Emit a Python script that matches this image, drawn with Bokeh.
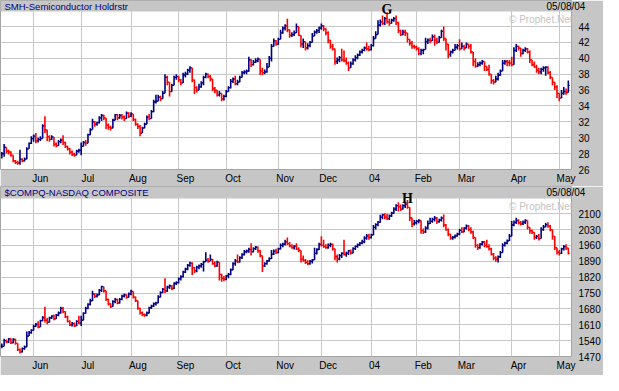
from bokeh.plotting import figure
from bokeh.models import ColumnDataSource, Range1d, FixedTicker, Label, LinearAxis, BoxAnnotation
from bokeh.layouts import column
from bokeh.embed import file_html
from bokeh.resources import INLINE

# ---------------- data ----------------
month_labels = ["Jun", "Jul", "Aug", "Sep", "Oct", "Nov", "Dec", "04", "Feb", "Mar", "Apr", "May"]
month_start_idx = [14, 35, 57, 78, 99, 122, 141, 163, 183, 202, 225, 246]

smh_ticks = [26, 28, 30, 32, 34, 36, 38, 40, 42, 44]
ndx_ticks = [1470, 1540, 1610, 1680, 1750, 1820, 1890, 1960, 2030, 2100]

smh_close = [
    28.0, 28.8, 28.3, 28.2, 27.8, 27.1, 26.9, 26.8, 27.3, 27.1,
    27.3, 28.6, 29.3, 29.9, 30.2, 29.6, 29.8, 29.9, 31.5, 31.0,
    30.1, 29.8, 30.1, 29.2, 29.0, 29.5, 29.7, 29.4, 28.9, 28.6,
    28.2, 27.9, 27.8, 28.3, 28.4, 28.9, 29.4, 29.3, 30.4, 31.0,
    32.0, 31.7, 31.9, 32.5, 32.8, 32.5, 31.6, 31.3, 31.2, 32.2,
    32.9, 32.5, 32.8, 32.6, 32.4, 33.1, 32.7, 33.0, 32.3, 31.7,
    31.4, 30.6, 31.2, 31.7, 32.6, 32.4, 33.3, 34.5, 34.6, 35.1,
    34.9, 35.6, 37.6, 37.0, 35.8, 36.6, 37.6, 37.7, 37.3, 36.9,
    37.9, 38.0, 38.5, 38.8, 37.3, 36.3, 36.0, 36.4, 36.9, 37.6,
    38.0, 37.7, 37.4, 36.2, 36.0, 35.4, 35.6, 34.9, 35.2, 35.8,
    36.3, 37.1, 37.4, 36.8, 37.0, 37.6, 38.2, 38.3, 38.4, 39.8,
    39.2, 39.5, 39.7, 39.9, 38.4, 38.2, 38.3, 38.9, 40.0, 41.5,
    42.2, 41.8, 42.4, 43.2, 43.8, 44.1, 43.6, 42.9, 43.0, 43.2,
    44.0, 42.9, 41.8, 42.1, 41.3, 41.6, 42.0, 42.8, 43.3, 43.5,
    43.8, 44.1, 43.7, 43.2, 42.3, 41.5, 41.2, 39.6, 39.8, 40.1,
    39.8, 39.7, 39.4, 38.8, 39.3, 39.8, 40.1, 40.4, 40.8, 41.0,
    41.3, 41.2, 41.1, 41.6, 42.5, 43.0, 44.2, 44.6, 44.4, 45.0,
    44.6, 44.4, 44.8, 45.0, 44.5, 43.5, 43.0, 43.3, 43.2, 42.4,
    41.9, 41.5, 41.4, 41.2, 40.6, 41.0, 41.1, 42.1, 42.3, 42.2,
    42.7, 42.3, 42.0, 42.6, 43.4, 42.5, 41.8, 40.5, 40.8, 41.0,
    41.4, 41.6, 41.2, 41.5, 41.3, 41.8, 41.5, 40.8, 39.6, 39.0,
    39.2, 39.4, 39.6, 39.0, 38.6, 38.0, 37.2, 37.0, 37.4, 37.9,
    38.4, 39.4, 39.6, 39.5, 39.4, 39.2, 41.0, 41.5, 41.3, 40.6,
    41.0, 41.2, 40.8, 39.8, 39.2, 38.9, 38.5, 38.3, 38.6, 38.8,
    38.9, 38.2, 37.6, 37.0, 36.4, 35.6, 35.0, 35.6, 35.8, 35.7,
    36.6,
]
smh_high = [
    28.2, 29.2, 28.8, 28.5, 28.3, 27.8, 27.2, 27.1, 28.5, 27.4,
    27.5, 28.8, 29.4, 30.2, 30.4, 30.6, 30.0, 30.2, 31.7, 32.7,
    31.0, 30.3, 30.3, 30.1, 29.4, 29.7, 29.9, 30.3, 29.5, 29.0,
    28.7, 28.4, 28.1, 28.5, 28.6, 29.4, 29.6, 29.7, 30.5, 31.2,
    32.4, 32.1, 32.0, 32.7, 33.0, 32.9, 32.5, 31.8, 31.5, 32.4,
    33.0, 33.0, 33.0, 33.0, 32.8, 33.3, 33.2, 33.2, 32.9, 32.4,
    31.8, 31.6, 31.4, 31.9, 32.8, 33.0, 33.5, 34.8, 35.4, 35.4,
    35.3, 35.9, 38.0, 37.8, 37.0, 36.8, 37.8, 38.0, 37.8, 37.4,
    38.2, 38.3, 38.7, 39.0, 38.6, 37.3, 36.5, 36.8, 37.1, 37.8,
    38.2, 38.1, 37.9, 37.4, 36.4, 36.0, 35.9, 35.6, 35.4, 36.0,
    36.5, 37.4, 37.6, 37.8, 37.3, 37.8, 38.4, 38.5, 38.6, 40.2,
    39.9, 39.8, 40.0, 40.1, 39.9, 38.8, 38.6, 39.4, 40.3, 41.8,
    42.5, 42.3, 42.6, 43.6, 44.0, 44.3, 45.0, 43.5, 43.3, 43.5,
    44.4, 44.0, 42.9, 42.5, 42.1, 41.9, 42.2, 43.2, 43.5, 43.7,
    44.0, 44.4, 44.2, 43.8, 43.4, 42.3, 41.8, 41.2, 40.1, 40.3,
    41.2, 41.0, 40.1, 39.6, 39.6, 40.0, 40.4, 40.6, 41.0, 41.2,
    41.5, 42.0, 41.6, 41.8, 42.8, 43.4, 44.8, 44.9, 45.4, 45.2,
    45.8, 45.0, 45.0, 45.2, 45.4, 44.6, 43.6, 43.6, 43.6, 43.2,
    42.4, 42.2, 41.7, 41.6, 41.4, 41.2, 41.2, 42.6, 42.5, 42.6,
    43.0, 43.0, 42.6, 42.8, 43.6, 44.0, 42.5, 41.8, 41.0, 41.2,
    41.8, 41.8, 42.4, 42.0, 41.7, 42.0, 41.8, 41.8, 40.8, 40.0,
    39.5, 39.6, 39.8, 39.6, 39.0, 39.2, 38.0, 37.4, 37.8, 38.2,
    38.6, 39.8, 39.8, 39.8, 39.8, 40.2, 41.4, 41.8, 41.6, 41.3,
    41.2, 41.4, 41.3, 41.0, 39.8, 39.6, 39.2, 38.8, 38.8, 39.0,
    39.0, 39.0, 38.4, 37.6, 37.0, 36.6, 35.6, 36.0, 36.4, 36.2,
    37.2,
]
smh_low = [
    27.4, 27.6, 28.0, 27.9, 27.6, 26.9, 26.7, 26.6, 26.6, 26.9,
    27.0, 27.3, 28.6, 29.2, 29.5, 29.3, 29.4, 29.6, 30.0, 30.6,
    29.6, 29.5, 29.7, 28.9, 28.8, 29.0, 29.3, 29.1, 28.7, 28.4,
    27.9, 27.7, 27.6, 27.9, 28.1, 27.8, 28.9, 29.0, 29.3, 30.3,
    31.0, 31.4, 31.5, 31.8, 32.1, 32.2, 31.1, 31.0, 30.9, 31.2,
    32.2, 32.2, 32.4, 32.3, 32.1, 32.4, 32.5, 32.6, 32.1, 31.5,
    31.1, 30.2, 30.7, 31.2, 31.7, 32.2, 32.5, 33.2, 34.3, 34.7,
    34.6, 35.0, 35.6, 36.6, 35.2, 35.8, 36.6, 37.3, 37.0, 36.6,
    36.9, 37.6, 37.9, 38.2, 37.0, 35.5, 35.7, 36.0, 36.3, 36.6,
    37.5, 37.5, 37.1, 35.9, 35.6, 35.2, 35.2, 34.6, 34.7, 35.1,
    35.8, 36.2, 36.9, 36.6, 36.6, 37.0, 37.6, 38.0, 38.0, 38.3,
    38.9, 39.1, 39.4, 39.5, 37.9, 37.9, 38.0, 38.2, 38.9, 39.6,
    41.5, 41.6, 41.7, 42.4, 43.1, 43.5, 43.3, 42.6, 42.7, 42.8,
    43.2, 42.8, 41.4, 41.3, 41.0, 41.1, 41.4, 42.0, 42.8, 43.1,
    43.2, 43.6, 43.4, 42.9, 41.9, 41.2, 41.0, 39.2, 39.3, 39.5,
    39.6, 39.5, 39.2, 38.4, 38.8, 39.2, 39.6, 39.9, 40.3, 40.6,
    40.9, 41.0, 40.9, 41.0, 41.5, 42.6, 43.0, 44.0, 44.2, 44.2,
    44.4, 44.1, 44.4, 44.6, 44.2, 43.2, 42.8, 42.9, 42.8, 42.0,
    41.6, 41.2, 41.2, 41.0, 40.4, 40.4, 40.5, 41.1, 41.8, 41.9,
    42.2, 41.6, 41.8, 42.0, 42.6, 42.2, 41.0, 40.0, 40.2, 40.6,
    41.0, 41.1, 41.0, 41.2, 41.0, 41.4, 41.2, 40.6, 39.0, 38.8,
    38.9, 39.0, 39.2, 38.4, 38.4, 37.8, 36.8, 36.7, 37.0, 37.2,
    37.8, 38.4, 39.2, 39.0, 39.0, 39.0, 39.6, 40.8, 41.0, 40.2,
    40.5, 40.8, 40.6, 39.4, 39.0, 38.8, 38.2, 38.0, 38.0, 38.3,
    37.8, 38.0, 37.4, 36.6, 36.0, 35.0, 34.6, 35.0, 35.4, 35.4,
    35.8,
]

ndx_close = [
    1515, 1540, 1535, 1548, 1530, 1545, 1528, 1500, 1490, 1505,
    1512, 1560, 1575, 1585, 1603, 1612, 1600, 1628, 1642, 1630,
    1622, 1640, 1648, 1636, 1652, 1662, 1682, 1668, 1645, 1625,
    1610, 1615, 1605, 1625, 1618, 1630, 1660, 1682, 1700, 1716,
    1745, 1735, 1742, 1762, 1778, 1760, 1722, 1702, 1690, 1712,
    1722, 1706, 1722, 1736, 1742, 1731, 1746, 1757, 1732, 1716,
    1682, 1662, 1655, 1652, 1662, 1686, 1692, 1702, 1707, 1732,
    1752, 1766, 1760, 1776, 1782, 1770, 1792, 1796, 1812, 1822,
    1842, 1856, 1872, 1882, 1862, 1848, 1864, 1870, 1876, 1888,
    1895, 1890, 1898, 1880, 1870, 1886, 1832, 1815, 1810, 1826,
    1832, 1852, 1880, 1892, 1888, 1906, 1920, 1932, 1936, 1942,
    1932, 1946, 1952, 1936, 1915, 1870, 1880, 1892, 1902, 1922,
    1935, 1928, 1945, 1960, 1966, 1976, 1968, 1958, 1950, 1956,
    1945, 1938, 1900, 1894, 1885, 1880, 1890, 1896, 1925, 1942,
    1965, 1960, 1955, 1950, 1960, 1965, 1945, 1910, 1900, 1915,
    1925, 1920, 1926, 1936, 1926, 1946, 1956, 1962, 1970, 1976,
    1992, 2002, 1994, 2006, 2040, 2052, 2062, 2085, 2095, 2085,
    2078, 2090, 2102, 2120, 2136, 2130, 2120, 2136, 2142, 2128,
    2082, 2055, 2060, 2066, 2070, 2025, 2020, 2036, 2056, 2066,
    2075, 2080, 2065, 2072, 2080, 2050, 2030, 2010, 1992, 1996,
    2002, 2010, 2026, 2020, 2036, 2046, 2030, 2020, 1995, 1960,
    1950, 1966, 1975, 1960, 1955, 1945, 1922, 1905, 1900, 1910,
    1928, 1960, 1970, 1980, 2000, 2050, 2062, 2070, 2060, 2055,
    2062, 2070, 2040, 2025, 2018, 1995, 2000, 1990, 2030, 2042,
    2052, 2045, 2030, 2000, 1950, 1930, 1925, 1945, 1955, 1948,
    1925,
]
ndx_high = [
    1527, 1548, 1545, 1552, 1550, 1550, 1548, 1525, 1505, 1510,
    1518, 1580, 1582, 1590, 1610, 1618, 1625, 1632, 1648, 1690,
    1640, 1645, 1652, 1655, 1658, 1668, 1690, 1688, 1670, 1650,
    1630, 1622, 1620, 1630, 1650, 1650, 1665, 1690, 1705, 1725,
    1760, 1750, 1748, 1768, 1782, 1778, 1760, 1725, 1705, 1718,
    1728, 1725, 1728, 1742, 1748, 1745, 1752, 1765, 1755, 1735,
    1715, 1685, 1668, 1660, 1668, 1690, 1698, 1708, 1712, 1740,
    1758, 1772, 1815, 1782, 1788, 1785, 1798, 1802, 1818, 1828,
    1848, 1862, 1878, 1888, 1886, 1865, 1870, 1876, 1882, 1892,
    1930, 1905, 1920, 1900, 1890, 1892, 1845, 1835, 1825, 1830,
    1838, 1858, 1886, 1900, 1920, 1912, 1926, 1940, 1942, 1950,
    1970, 1952, 1958, 1955, 1940, 1885, 1886, 1896, 1908, 1940,
    1942, 1945, 1950, 1968, 1972, 1985, 1995, 1975, 1965, 1962,
    1970, 1952, 1935, 1915, 1900, 1895, 1896, 1900, 1950, 1948,
    1972, 2000, 1985, 1965, 1968, 1972, 1968, 1945, 1920, 1922,
    1930, 1985, 1932, 1940, 1942, 1952, 1960, 1968, 1975, 1985,
    2000, 2010, 2012, 2012, 2050, 2058, 2068, 2095, 2100, 2102,
    2100, 2096, 2108, 2128, 2142, 2150, 2140, 2142, 2150, 2160,
    2098, 2082, 2072, 2072, 2076, 2040, 2035, 2045, 2070, 2082,
    2082, 2090, 2085, 2078, 2088, 2096, 2055, 2035, 2005, 2002,
    2008, 2016, 2032, 2040, 2040, 2052, 2050, 2040, 2025, 1990,
    1965, 1970, 1980, 1980, 1985, 1965, 1950, 1927, 1912, 1915,
    1935, 1970, 1976, 1986, 2010, 2068, 2070, 2082, 2075, 2068,
    2070, 2076, 2068, 2040, 2030, 2005, 2006, 2010, 2040, 2050,
    2060, 2062, 2050, 2026, 1970, 1950, 1940, 1950, 1962, 1965,
    1950,
]
ndx_low = [
    1506, 1519, 1528, 1530, 1525, 1528, 1522, 1494, 1483, 1488,
    1500, 1520, 1560, 1570, 1585, 1600, 1595, 1605, 1625, 1620,
    1612, 1620, 1635, 1630, 1635, 1648, 1660, 1662, 1640, 1620,
    1605, 1602, 1600, 1605, 1612, 1605, 1630, 1660, 1678, 1695,
    1715, 1728, 1730, 1740, 1755, 1752, 1715, 1695, 1684, 1690,
    1705, 1700, 1704, 1718, 1730, 1725, 1730, 1740, 1726, 1710,
    1676, 1655, 1648, 1645, 1648, 1660, 1680, 1688, 1695, 1705,
    1730, 1750, 1750, 1755, 1768, 1762, 1768, 1785, 1792, 1805,
    1818, 1838, 1850, 1866, 1830, 1838, 1842, 1855, 1862, 1845,
    1888, 1884, 1892, 1875, 1864, 1866, 1805, 1800, 1802, 1806,
    1815, 1828, 1850, 1870, 1882, 1885, 1900, 1915, 1925, 1928,
    1915, 1930, 1940, 1928, 1908, 1843, 1865, 1875, 1888, 1900,
    1918, 1922, 1926, 1942, 1952, 1960, 1962, 1952, 1945, 1942,
    1940, 1930, 1885, 1888, 1878, 1872, 1875, 1880, 1905, 1920,
    1940, 1955, 1950, 1945, 1945, 1952, 1938, 1895, 1885, 1895,
    1905, 1915, 1910, 1918, 1920, 1925, 1940, 1950, 1958, 1965,
    1970, 1985, 1985, 1990, 2015, 2030, 2045, 2060, 2075, 2075,
    2072, 2072, 2085, 2100, 2112, 2110, 2112, 2118, 2125, 2122,
    2068, 2040, 2048, 2052, 2058, 2012, 2010, 2015, 2030, 2055,
    2060, 2065, 2055, 2060, 2065, 2040, 2025, 2000, 1985, 1985,
    1990, 1998, 2005, 2015, 2018, 2030, 2022, 2012, 1988, 1950,
    1940, 1945, 1960, 1952, 1950, 1938, 1915, 1895, 1888, 1885,
    1905, 1940, 1955, 1965, 1985, 2040, 2045, 2054, 2052, 2048,
    2050, 2055, 2030, 2012, 2010, 1985, 1988, 1982, 2000, 2025,
    2040, 2038, 2022, 1985, 1940, 1920, 1915, 1922, 1938, 1940,
    1920,
]

# ---------------- style ----------------
FONT = "Liberation Sans"
NAVY = "#000080"
RED = "#ff0000"
PANEL_GRAY = "#c6c6c6"
GRID = "#c8c8c8"
W = 603
RIGHT = 28
FW = W - RIGHT


def plain_axis(ax, standoff, size="10px"):
    ax.axis_label = None
    ax.axis_label_standoff = 0
    ax.axis_line_color = None
    ax.major_tick_line_color = None
    ax.minor_tick_line_color = None
    ax.major_tick_out = 0
    ax.major_tick_in = 0
    ax.minor_tick_out = 0
    ax.minor_tick_in = 0
    ax.major_label_standoff = standoff
    ax.major_label_text_font = FONT
    ax.major_label_text_font_size = size
    ax.major_label_text_color = "black"


def make_panel(title, close, high, low, yticks, ymin, ymax,
               bar_h, frame_h, bottom, mark, mark_x, mark_dy):
    n = min(len(close), len(high), len(low))
    close, high, low = close[:n], high[:n], low[:n]
    xs = list(range(n))
    opn = [close[0]] + close[:-1]
    colors = [RED if c < o else NAVY for c, o in zip(close, opn)]
    hi = [max(h, o, c) for h, o, c in zip(high, opn, close)]
    lo = [min(l, o, c) for l, o, c in zip(low, opn, close)]
    src = ColumnDataSource(dict(
        x=xs, xl=[i - 0.6 for i in xs], xr=[i + 0.6 for i in xs],
        o=opn, h=hi, l=lo, c=close, color=colors))

    # the frame also holds the grey title bar on top of the price area
    per_px = (ymax - ymin) / frame_h
    ytop = ymax + bar_h * per_px
    ybar = ymax + (bar_h / 2) * per_px

    p = figure(width=W, height=bar_h + frame_h + bottom, output_backend="svg",
               toolbar_location=None,
               x_range=Range1d(-0.6, n + 0.4), y_range=Range1d(ymin, ytop),
               y_axis_location="right",
               min_border_left=0, min_border_right=RIGHT,
               min_border_top=0, min_border_bottom=bottom)
    p.background_fill_color = "white"
    p.border_fill_color = PANEL_GRAY
    p.outline_line_color = "#a4a4a4"

    p.xgrid.ticker = FixedTicker(ticks=month_start_idx)
    p.xgrid.grid_line_color = GRID
    p.ygrid.ticker = FixedTicker(ticks=yticks)
    p.ygrid.grid_line_color = GRID

    # title bar
    p.add_layout(BoxAnnotation(bottom=ymax, fill_color=PANEL_GRAY, fill_alpha=1.0,
                               line_color=None, level="underlay"))

    # month names just right of each month line
    offs = [1.5 if m == "04" else 3 for m in month_labels]
    lab_ticks = [s + o for s, o in zip(month_start_idx, offs)]
    xa = p.xaxis[0]
    xa.ticker = FixedTicker(ticks=lab_ticks)
    xa.major_label_overrides = {t_: m for t_, m in zip(lab_ticks, month_labels)}
    plain_axis(xa, 3)

    # inner right axis: the date in the title bar (pulled left over the bar)
    da = p.yaxis[0]
    da.ticker = FixedTicker(ticks=[ybar])
    da.major_label_overrides = {ybar: "05/08/04"}
    plain_axis(da, -25)
    # outer right axis: prices
    pa = LinearAxis(ticker=FixedTicker(ticks=yticks))
    plain_axis(pa, -10)
    p.add_layout(pa, "right")

    p.segment(x0="x", y0="l", x1="x", y1="h", line_color="color", line_width=1.6, source=src)
    p.segment(x0="xl", y0="o", x1="x", y1="o", line_color="color", line_width=1.3, source=src)
    p.segment(x0="x", y0="c", x1="xr", y1="c", line_color="color", line_width=1.3, source=src)

    p.add_layout(Label(x=4, y=frame_h + bar_h / 2, x_units="screen", y_units="screen",
                       text=title, text_font=FONT, text_font_size="9.5px",
                       text_color=NAVY, text_baseline="middle", text_align="left"))
    p.add_layout(Label(x=FW - 3, y=frame_h - 8, x_units="screen", y_units="screen",
                       text="\u00a9 Prophet.Net", text_font=FONT, text_font_size="10px",
                       text_color="#c4c4c4", text_baseline="middle", text_align="right"))
    p.add_layout(Label(x=mark_x, y=frame_h + mark_dy, x_units="data", y_units="screen",
                       text=mark, text_font="Liberation Serif", text_font_size="14px",
                       text_font_style="bold", text_color="black",
                       text_baseline="middle", text_align="center"))
    return p


p1 = make_panel("SMH-Semiconductor Holdrstr", smh_close, smh_high, smh_low,
                smh_ticks, 26, 45.9, 11, 158, 17, "G", 170, 2.5)
p2 = make_panel("$COMPQ-NASDAQ COMPOSITE", ndx_close, ndx_high, ndx_low,
                ndx_ticks, 1470, 2167, 12, 158, 19, "H", 179, 0)

layout = column(p1, p2, spacing=0)
open("out.html", "w").write(file_html(layout, INLINE))
